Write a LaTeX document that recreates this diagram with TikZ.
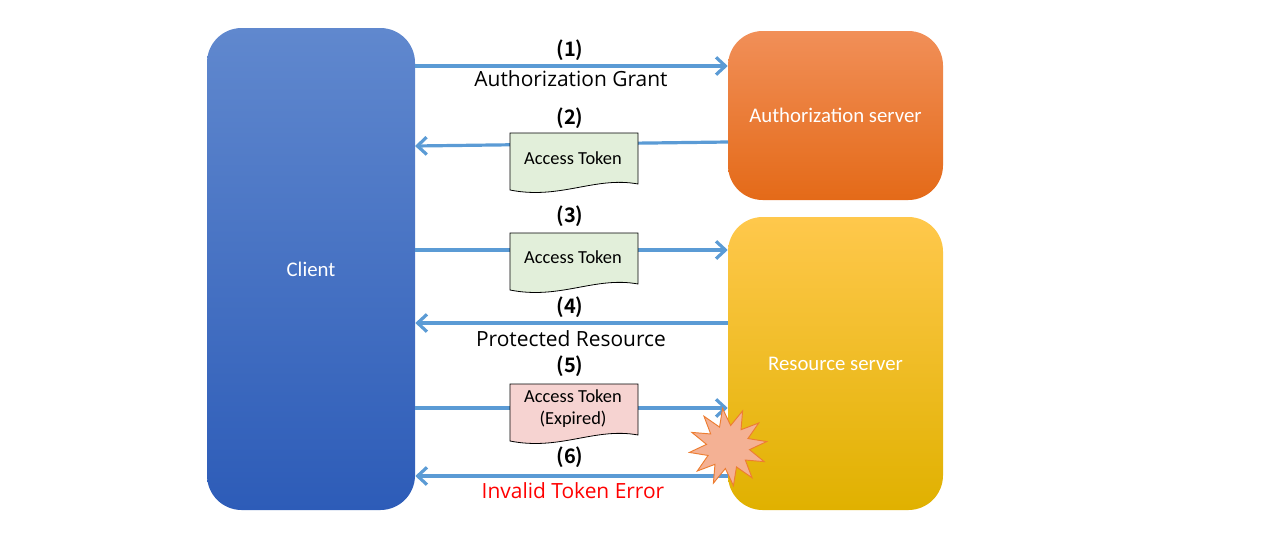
\documentclass[tikz,border=0pt]{standalone}
\usepackage{fontspec}
\setmainfont{Carlito}
\newfontfamily\lbl{Open Sans}
\newfontfamily\num{Noto Sans CJK JP}[BoldFont={Noto Sans CJK JP Bold}]
\usetikzlibrary{arrows.meta,shapes.geometric}
\definecolor{flowc}{HTML}{5B9BD5}
\definecolor{docg}{HTML}{E2EFDA}
\definecolor{docp}{HTML}{F6D3D1}
\definecolor{cltop}{RGB}{96,136,206}
\definecolor{clbot}{RGB}{45,92,184}
\definecolor{autop}{RGB}{241,143,88}
\definecolor{aubot}{RGB}{228,106,24}
\definecolor{rstop}{RGB}{255,200,76}
\definecolor{rsmid}{RGB}{255,192,0}
\definecolor{rsbot}{RGB}{224,177,0}
\definecolor{boomf}{RGB}{244,177,148}
\definecolor{boomd}{RGB}{237,125,49}
\tikzset{
  flow/.style={draw=flowc,line width=2.4pt,-{Straight Barb[length=7pt,width=13pt,line width=2.4pt]}},
  box/.style={rectangle,rounded corners=26pt,text=white,font=\fontsize{15.6}{18}\selectfont},
  numlbl/.style={font=\num\bfseries\fontsize{15}{17}\selectfont},
  msglbl/.style={font=\lbl\fontsize{15.7}{18}\selectfont},
  doctext/.style={font=\fontsize{13.8}{17}\selectfont,align=center},
}
\begin{document}
\begin{tikzpicture}[x=0.75pt,y=-0.75pt]
\useasboundingbox (0,0) rectangle (1280,532);
% boxes
\node[box,minimum width=208*0.75pt,minimum height=482*0.75pt,top color=cltop,bottom color=clbot] (client) at (311,269) {Client};
\node[box,minimum width=215*0.75pt,minimum height=169*0.75pt,top color=autop,bottom color=aubot] (auth) at (835.5,115.5) {Authorization server};
\node[box,minimum width=215*0.75pt,minimum height=293*0.75pt,top color=rstop,middle color=rsmid,bottom color=rsbot] (res) at (835.5,363.5) {Resource server};
% arrows
\draw[flow] (client.east |- 0,66) -- (auth.west |- 0,66);
\coordinate (a2s) at (728,142);
\coordinate (a2e) at (415,146);
\draw[flow] (a2s) -- (a2e);
\draw[flow] (client.east |- 0,250) -- (res.west |- 0,250);
\draw[flow] (res.west |- 0,323) -- (client.east |- 0,323);
\draw[flow] (client.east |- 0,408) -- (res.west |- 0,408);
\draw[flow] (res.west |- 0,476) -- (client.east |- 0,476);
% documents
\draw[fill=docg,line width=0.6pt] (510,133) -- (638,133) -- (638,184) .. controls (595,176) and (560,200) .. (510,190) -- cycle;
\node[doctext] (t2) at (573,158) {Access Token};
\draw[fill=docg,line width=0.6pt] (510,233) -- (638,233) -- (638,284) .. controls (595,276) and (560,300) .. (510,290) -- cycle;
\node[doctext] (t3) at (573,257) {Access Token};
\draw[fill=docp,line width=0.6pt] (510,384) -- (638,384) -- (638,435) .. controls (595,427) and (560,451) .. (510,441) -- cycle;
\node[doctext] (t5) at (573,408.5) {Access Token\\(Expired)};
% labels
\node[numlbl] (n1) at (570,50) {(1)};
\node[msglbl] (m1) at (571,79) {Authorization Grant};
\node[numlbl] (n2) at (570,118) {(2)};
\node[numlbl] (n3) at (570,216) {(3)};
\node[numlbl] (n4) at (570,307) {(4)};
\node[msglbl] (m4) at (571,339) {Protected Resource};
\node[numlbl] (n5) at (570,366) {(5)};
\node[numlbl] (n6) at (570,457) {(6)};
\node[msglbl,text=red] (m6) at (573,491) {Invalid Token Error};
% explosion
\node[star,star points=12,star point ratio=1.8,minimum size=78*0.75pt,inner sep=0pt,fill=boomf,draw=boomd,line width=0.7pt,rotate=8] (boom) at (728,447) {};
\end{tikzpicture}
\end{document}
